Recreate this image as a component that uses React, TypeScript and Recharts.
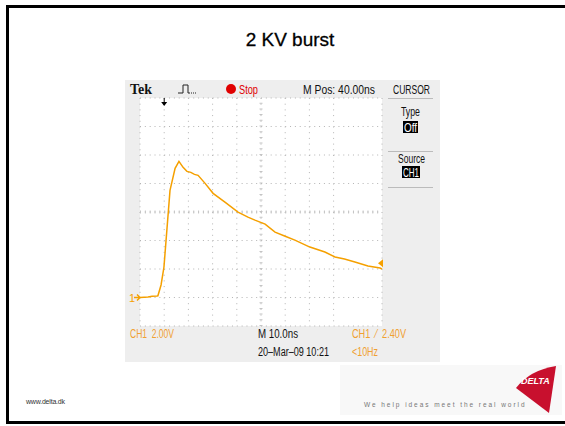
import React from 'react'
import { LineChart, Line, XAxis, YAxis, CartesianGrid, ReferenceLine } from 'recharts'

// CH1 trace (ns, volts)
const timeNs = [0, 3.3, 5, 7, 7.4, 8.7, 9.9, 11.2, 12.4, 14.5, 16.1, 17.8, 19.4, 21, 22.5, 24, 26.9, 30.2, 35.1, 40.5, 44.6, 47.5, 51.7, 55.8, 60, 64, 70.2, 76.4, 80.6, 84.5, 88.8, 94.2, 99.2, 100]
const volts = [0, 0.04, 0.08, 0.11, 0.12, 0.88, 2.14, 4.94, 7.52, 9.06, 9.55, 9.13, 8.85, 8.78, 8.64, 8.57, 8.01, 7.31, 6.69, 5.99, 5.64, 5.43, 5.15, 4.59, 4.3, 4.03, 3.54, 3.19, 2.84, 2.7, 2.49, 2.21, 2.07, 2.0]

const timeTicks = [0, 10, 20, 30, 40, 50, 60, 70, 80, 90, 100]
const voltTicks = [-2, 0, 2, 4, 6, 8, 10, 12, 14]

const groundLevel = 0
const triggerLevel = 2.4
const triggerTime = 10

const data = timeNs.map((t, i) => ({ t, v: volts[i] }))

const ORANGE = '#f5a000'
const ORANGE_TEXT = '#f0a030'
const GRID = '#b4b4b4'
const sans = "'Liberation Sans', Arial, sans-serif"

const abs = (x: number, y: number, extra: React.CSSProperties = {}): React.CSSProperties => ({
  position: 'absolute',
  left: x,
  top: y,
  ...extra,
})

// narrow scope lettering: squeeze to the width measured on the screenshot
const ScopeText = ({ x, y, w, fill = '#111', size = 13, children }: any) => (
  <text x={x} y={y} textLength={w} lengthAdjust="spacingAndGlyphs" fill={fill} fontSize={size} fontFamily={sans} style={{ whiteSpace: 'pre' }}>
    {children}
  </text>
)

const GroundMark = ({ viewBox }: any) => {
  if (!viewBox) return null
  const x = viewBox.x
  const y = viewBox.y
  return (
    <g>
      <text x={x - 11} y={y + 4} fill={ORANGE} fontSize={11} fontFamily={sans}>1</text>
      <path d={`M${x - 6},${y} L${x},${y} M${x - 3},${y - 3} L${x},${y} L${x - 3},${y + 3}`} stroke={ORANGE} strokeWidth={1.4} fill="none" />
    </g>
  )
}

const TriggerMark = ({ viewBox }: any) => {
  if (!viewBox) return null
  const x = viewBox.x + viewBox.width
  const y = viewBox.y
  return <path d={`M${x - 4},${y} L${x + 1},${y - 4} L${x + 1},${y + 4} Z`} fill={ORANGE} />
}

const TimeMark = ({ viewBox }: any) => {
  if (!viewBox) return null
  const x = viewBox.x
  const y = viewBox.y
  return (
    <g>
      <line x1={x} y1={y} x2={x} y2={y + 7} stroke="#000" strokeWidth={1} />
      <path d={`M${x - 3},${y + 4} L${x + 3},${y + 4} L${x},${y + 8} Z`} fill="#000" />
    </g>
  )
}

export default function App() {
  return (
    <div style={{ position: 'absolute', left: 0, top: 0, width: 565, height: 426, background: '#fff', overflow: 'hidden', fontFamily: sans }}>
      {/* slide frame */}
      <div style={abs(6, 5, { width: 559, height: 3, background: '#000' })} />
      <div style={abs(6, 5, { width: 3, height: 419, background: '#000' })} />
      <div style={abs(6, 421, { width: 559, height: 3, background: '#000' })} />

      <div style={abs(0, 29, { width: 580, textAlign: 'center', fontSize: 19, color: '#000', WebkitTextStroke: '0.3px #000' })}>2 KV burst</div>

      {/* scope screen */}
      <div style={abs(125, 80, { width: 315, height: 282, background: '#eeeeee' })} />
      <div style={abs(140, 98, { width: 242, height: 228, background: '#fff' })} />

      <div style={abs(0, 0)}>
        <LineChart width={565} height={426} data={data} margin={{ top: 98, right: 183, bottom: 100, left: 140 }}>
          <XAxis dataKey="t" type="number" domain={[0, 100]} ticks={timeTicks} hide />
          <YAxis type="number" domain={[-2, 14]} ticks={voltTicks} hide />
          <CartesianGrid horizontal={false} stroke={GRID} strokeDasharray="1 4.7" />
          <CartesianGrid vertical={false} stroke={GRID} strokeDasharray="1 3.84" />
          <ReferenceLine y={6} stroke="#c4c4c4" strokeWidth={3} strokeDasharray="1 3.84" />
          <ReferenceLine x={50} stroke="#c4c4c4" strokeWidth={3} strokeDasharray="1 4.7" />
          <ReferenceLine y={groundLevel} stroke="none" label={<GroundMark />} />
          <ReferenceLine y={triggerLevel} stroke="none" label={<TriggerMark />} />
          <ReferenceLine x={triggerTime} stroke="none" label={<TimeMark />} />
          <Line type="linear" dataKey="v" stroke={ORANGE} strokeWidth={1.5} dot={false} isAnimationActive={false} />
        </LineChart>
      </div>

      {/* scope lettering */}
      <svg style={abs(0, 0)} width={565} height={426}>
        <text x={130} y={94} fontFamily="'Liberation Serif', serif" fontWeight="bold" fontSize={14} fill="#111" textLength={22} lengthAdjust="spacingAndGlyphs">Tek</text>
        <path d="M178,93 L183,93 L183,85 L188,85 L188,93 L190,93" stroke="#222" strokeWidth={1} fill="none" />
        <path d="M191,93 L197,93" stroke="#222" strokeWidth={1} strokeDasharray="1 1" fill="none" />
        <circle cx={231} cy={89} r={5} fill="#e00000" />
        <ScopeText x={239} y={93.5} w={19} fill="#e00000">Stop</ScopeText>
        <ScopeText x={303} y={93.5} w={72}>M Pos: 40.00ns</ScopeText>
        <ScopeText x={393} y={93.5} w={37}>CURSOR</ScopeText>

        <line x1={388} y1={98.5} x2={433} y2={98.5} stroke="#bbb" />
        <line x1={388} y1={151.5} x2={433} y2={151.5} stroke="#bbb" />
        <line x1={388} y1={187.5} x2={433} y2={187.5} stroke="#bbb" />
        <ScopeText x={401} y={116} w={19}>Type</ScopeText>
        <rect x={403} y={121} width={15} height={12} fill="#000" />
        <ScopeText x={404} y={132} w={13} fill="#fff" size={12}>Off</ScopeText>
        <ScopeText x={398} y={163} w={27}>Source</ScopeText>
        <rect x={402} y={166} width={18} height={12} fill="#000" />
        <ScopeText x={403} y={177} w={16} fill="#fff" size={12}>CH1</ScopeText>

        <ScopeText x={130} y={337.5} w={44} fill={ORANGE_TEXT} size={12}>CH1  2.00V</ScopeText>
        <ScopeText x={258} y={337.5} w={40} size={12}>M 10.0ns</ScopeText>
        <ScopeText x={352} y={337.5} w={54} fill={ORANGE_TEXT} size={12}>CH1  ⁄  2.40V</ScopeText>
        <ScopeText x={258} y={355.5} w={71} size={12}>20–Mar–09 10:21</ScopeText>
        <ScopeText x={352} y={355.5} w={26} fill={ORANGE_TEXT} size={12}>&lt;10Hz</ScopeText>
      </svg>

      {/* footer */}
      <div style={abs(26, 398, { fontSize: 7, color: '#333', letterSpacing: -0.2 })}>www.delta.dk</div>
      <div style={abs(340, 365, { width: 222, height: 50, background: '#f8f8f8' })} />
      <div style={abs(364, 401, { fontSize: 6.5, color: '#777', letterSpacing: 1.95, whiteSpace: 'nowrap' })}>We help ideas meet the real world</div>
      <svg style={abs(510, 362)} width={52} height={54}>
        <path d="M6,26 Q20,8 46,4 L39,51 Z" fill="#c8102e" />
        <text x={11} y={22} fill="#fff" fontSize={9} fontWeight="bold" fontStyle="italic" fontFamily={sans}>DELTA</text>
      </svg>
    </div>
  )
}
